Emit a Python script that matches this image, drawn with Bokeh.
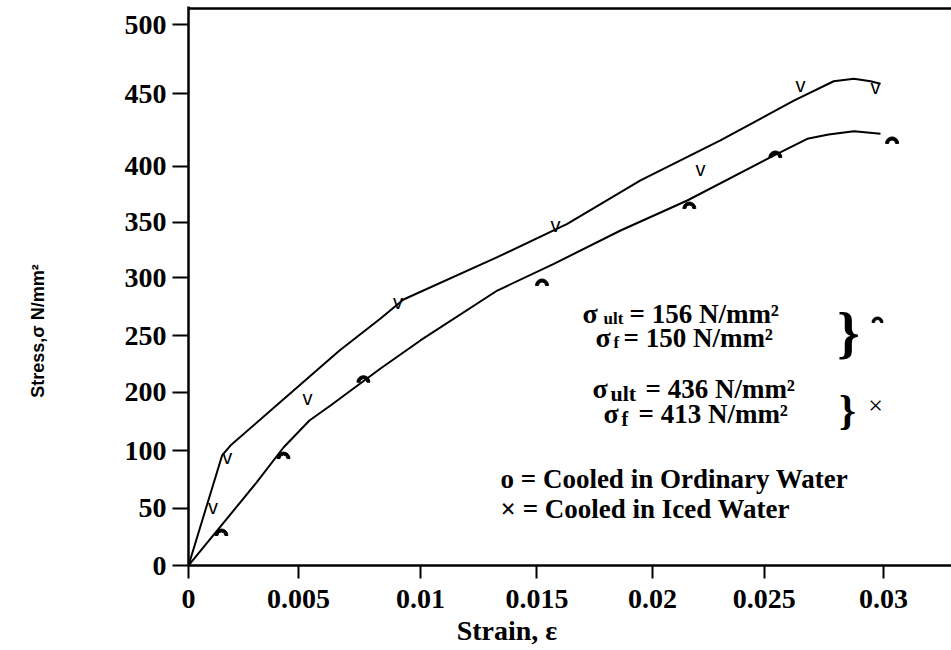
import numpy as np
from bokeh.plotting import figure
from bokeh.models import Range1d, FixedTicker, Label, Span
from bokeh.core.properties import value
from bokeh.embed import file_html
from bokeh.resources import INLINE

# ---- data (strain, stress in the chart's own plotted scale) ----
iced_curve_strain = [0, 0.00145, 0.00181, 0.00404, 0.00652, 0.00829, 0.00928, 0.01333,
                     0.01635, 0.01951, 0.02296, 0.02613, 0.02785, 0.02872, 0.02944, 0.02987]
iced_curve_stress = [0, 95.7, 104.3, 143.5, 187.0, 214.8, 231.3, 268.1,
                     297.1, 334.8, 369.6, 404.3, 421.1, 423.2, 421.1, 418.9]

ord_curve_strain = [0, 0.00294, 0.0041, 0.00522, 0.00613, 0.00829, 0.01001, 0.01333,
                    0.01577, 0.01865, 0.02153, 0.02526, 0.02671, 0.02763, 0.02872, 0.02987]
ord_curve_stress = [0, 72.2, 102.6, 126.1, 139.1, 171.3, 195.7, 239.1,
                    262.3, 291.3, 317.4, 356.5, 371.0, 374.8, 377.6, 375.4]

iced_pts_strain = [0.00106, 0.00167, 0.00514, 0.00904, 0.01584, 0.0221, 0.02642, 0.02965]
iced_pts_stress = [51.3, 94.2, 145.7, 229.1, 295.7, 345.2, 417.4, 416.1]

ord_pts_strain = [0.00142, 0.0041, 0.00755, 0.01526, 0.02162, 0.02533, 0.03037]
ord_pts_stress = [26.1, 93.0, 159.4, 243.5, 310.4, 354.8, 367.0]

x_tick_pos = [0, 0.00475, 0.01001, 0.01504, 0.02003, 0.02485, 0.03]
x_tick_labels = ["0", "0.005", "0.01", "0.015", "0.02", "0.025", "0.03"]
y_tick_pos = [0, 49.8, 100, 150.7, 200, 250.4, 298.3, 347, 410.4, 470.4]
y_tick_labels = ["0", "50", "100", "200", "250", "300", "350", "400", "450", "500"]

x_title = "Strain, ε"
y_title = "Stress,σ N/mm²"

# ---- layout helpers (screen pixel -> data position for annotations) ----
X0, XS = 188.0, 23167.0
Y0, YS = 565.0, 1.15
def px_x(px):
    return (px - X0) / XS
def px_y(py):
    return (Y0 - py) / YS

W, H = 951, 650
p = figure(width=W, height=H, output_backend="svg", toolbar_location=None,
           x_range=Range1d(0, px_x(W)), y_range=Range1d(0, px_y(6)),
           min_border_left=188, min_border_right=0, min_border_top=6, min_border_bottom=85)
p.outline_line_color = None
p.xgrid.visible = False
p.ygrid.visible = False
p.background_fill_color = "white"
p.border_fill_color = "white"

SERIF = "Liberation Serif"
NBSP = "\u00a0"

for ax, ticks, labels, tout, stand in ((p.xaxis[0], x_tick_pos, x_tick_labels, 13, 11),
                                       (p.yaxis[0], y_tick_pos, y_tick_labels, 16, 6)):
    ax.ticker = FixedTicker(ticks=ticks)
    ax.major_label_overrides = {t: l for t, l in zip(ticks, labels)}
    ax.axis_line_width = 2.5
    ax.axis_line_color = "black"
    ax.major_tick_line_width = 2
    ax.major_tick_line_color = "black"
    ax.major_tick_out = tout
    ax.major_tick_in = 0
    ax.minor_tick_out = 0
    ax.minor_tick_in = 0
    ax.major_label_text_font = SERIF
    ax.major_label_text_font_style = "bold"
    ax.major_label_text_font_size = "28px"
    ax.major_label_text_color = "black"
    ax.major_label_standoff = stand

# axis titles (padded with no-break spaces to sit off-centre as in the original)
p.xaxis[0].axis_label = x_title + NBSP * 18
p.xaxis[0].axis_label_text_font = SERIF
p.xaxis[0].axis_label_text_font_style = "bold"
p.xaxis[0].axis_label_text_font_size = "28px"
p.xaxis[0].axis_label_text_color = "black"
p.xaxis[0].axis_label_standoff = 4

p.yaxis[0].axis_label = y_title + NBSP * 18
p.yaxis[0].axis_label_text_font = "Liberation Sans Narrow, Liberation Sans"
p.yaxis[0].axis_label_text_font_style = "bold"
p.yaxis[0].axis_label_text_font_size = "18px"
p.yaxis[0].axis_label_text_color = "black"
p.yaxis[0].axis_label_standoff = 74

# top border line
p.add_layout(Span(location=px_y(8), dimension="width", line_color="black", line_width=2.5))

# curves
p.line(iced_curve_strain, iced_curve_stress, line_color="black", line_width=2)
p.line(ord_curve_strain, ord_curve_stress, line_color="black", line_width=2)

# markers: iced (lower half of x, looks like v) and ordinary (upper half of o)
p.text(x=iced_pts_strain, y=iced_pts_stress, text=["v"] * len(iced_pts_strain),
       text_font=value("Liberation Sans"), text_font_size="20px",
       text_align="center", text_baseline="middle", text_color="black")
p.annular_wedge(x=ord_pts_strain, y=ord_pts_stress, inner_radius=3.5, outer_radius=6.5,
                inner_radius_units="screen", outer_radius_units="screen",
                start_angle=0, end_angle=np.pi, color="black")

def label(text, x, y, size, style="bold", align="left", baseline="alphabetic", font=SERIF, angle=0):
    p.add_layout(Label(x=px_x(x), y=px_y(y), text=text, text_font=font,
                       text_font_style=style, text_font_size=f"{size}px",
                       text_align=align, text_baseline=baseline, text_color="black",
                       angle=angle))

# annotation block
label("σ", 582, 313, 28)
label("ult", 603, 318, 17)
label("= 156 N/mm²", 629, 313, 27)
label("σ", 595, 337, 28)
label("f", 613, 342, 17)
label("= 150 N/mm²", 623, 337, 27)
label("σ", 592, 388, 28)
label("ult", 610, 393, 22)
label("= 436 N/mm²", 645, 388, 27)
label("σ", 603, 413, 28)
label("f", 621, 418, 20)
label("= 413 N/mm²", 638, 413, 27)

label("}", 848, 332, 57, align="center")
label("}", 847, 409, 43, align="center")
label("×", 875, 405, 26, style="normal", align="center", baseline="middle")
p.annular_wedge(x=[px_x(877)], y=[px_y(322)], inner_radius=3, outer_radius=5.5,
                inner_radius_units="screen", outer_radius_units="screen",
                start_angle=0, end_angle=np.pi, color="black")

label("o = Cooled in Ordinary Water", 500, 478, 27)
label("× = Cooled in Iced Water", 500, 508, 27)

open("out.html", "w").write(file_html(p, INLINE))
